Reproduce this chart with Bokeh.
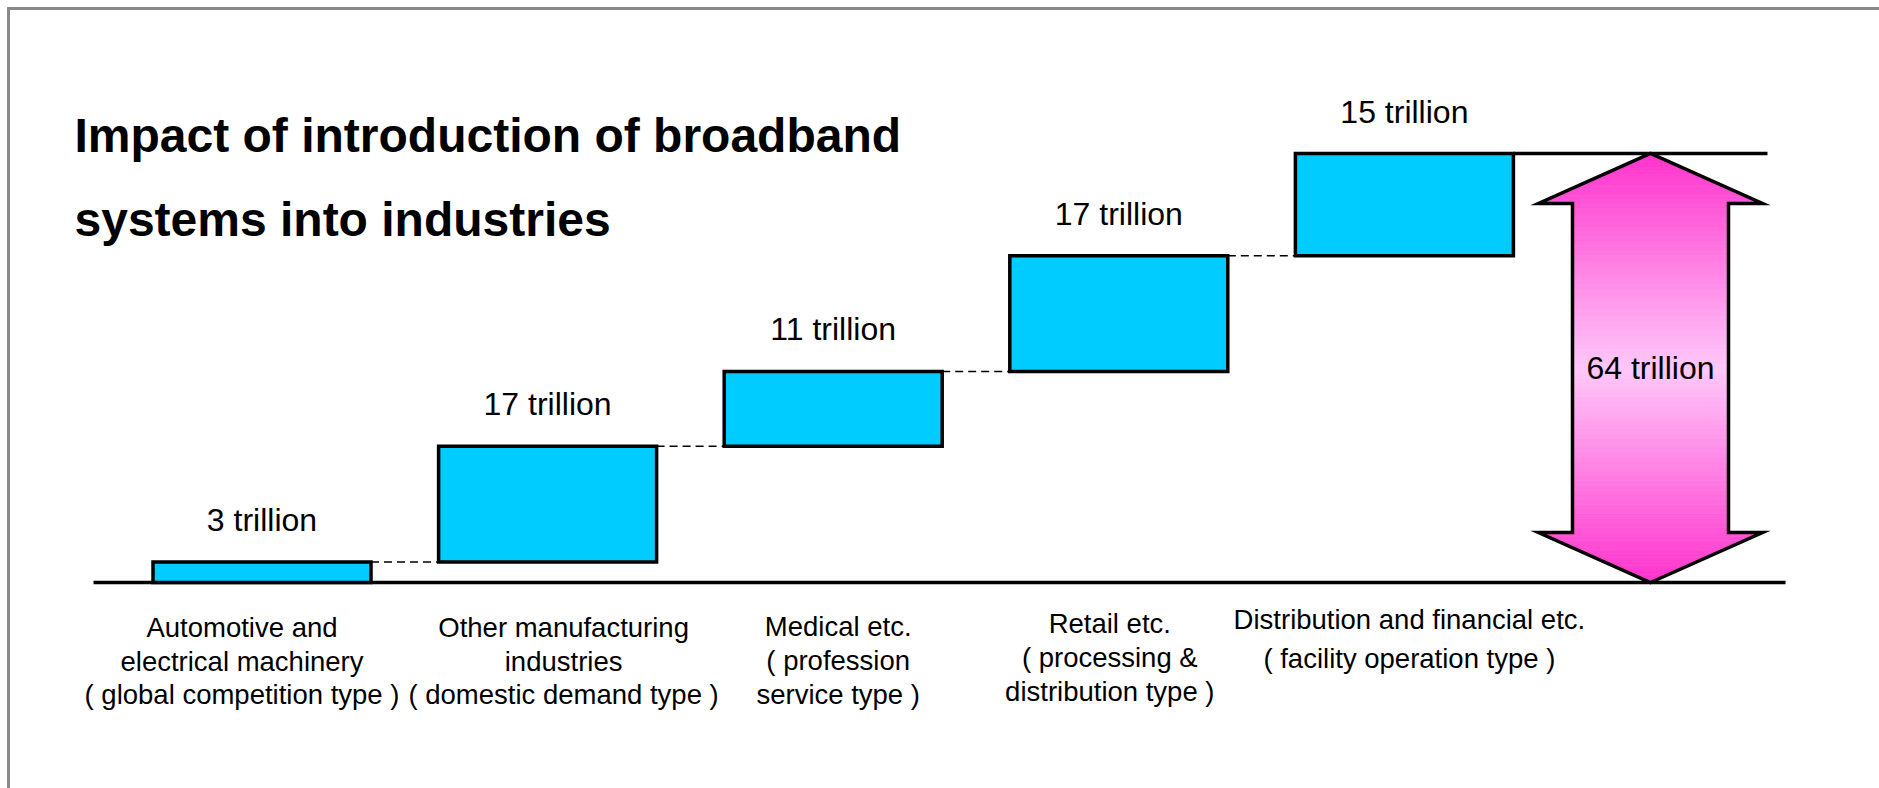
import numpy as np
from bokeh.plotting import figure
from bokeh.models import Range1d
from bokeh.embed import file_html
from bokeh.resources import INLINE
from bokeh.core.properties import value

# ---------------- data ----------------
categories = [
    "Automotive and\nelectrical machinery\n( global competition type )",
    "Other manufacturing\nindustries\n( domestic demand type )",
    "Medical etc.\n( profession\nservice type )",
    "Retail etc.\n( processing &\ndistribution type )",
    "Distribution and financial etc.\n( facility operation type )",
]
values = [3, 17, 11, 17, 15]          # trillion
value_labels = ["3 trillion", "17 trillion", "11 trillion", "17 trillion", "15 trillion"]
total_label = "64 trillion"
title_lines = ["Impact of introduction of broadband", "systems into industries"]

# ---------------- layout (pixels) ----------------
W, H = 1879, 788
PX_X0, PX_DX = 261.5, 285.6      # pixel of first category centre, spacing
PX_BASE, PX_TOP = 582.0, 153.0   # pixel of zero line and of cumulative total
BAR_PX = 218.0
FONT = value("Liberation Sans")

# category label placement (pixels): x shift, first baseline, line pitch
label_dx_px = [-20, 16, 5, -9, 5]
label_y0_px = [627, 627, 626, 623, 619]
label_pitch_px = [33.5, 33.5, 34, 34, 39]

idx = np.arange(len(values), dtype=float)
cum = np.cumsum(values).astype(float)
bottoms = cum - np.array(values, dtype=float)
total = cum[-1]
k = (PX_BASE - PX_TOP) / total


def dx(px):
    return (px - PX_X0) / PX_DX


def dy(py):
    return (PX_BASE - py) / k


bw = BAR_PX / PX_DX

p = figure(width=W, height=H, output_backend="svg", toolbar_location=None,
           x_range=Range1d(dx(0), dx(W)), y_range=Range1d(dy(H), dy(0)),
           min_border=0, outline_line_color=None)
p.axis.visible = False
p.grid.visible = False
p.background_fill_color = "white"
p.border_fill_color = "white"

# page frame (top and left edges)
p.segment(x0=[dx(8), dx(8)], y0=[dy(8), dy(8)], x1=[dx(W + 5), dx(8)], y1=[dy(8), dy(H + 5)],
          line_color="#8a8a8a", line_width=3, line_cap="square")

# baseline and top line
p.segment(x0=[dx(93)], x1=[dx(1785)], y0=[0], y1=[0], line_color="black", line_width=3.5)
p.segment(x0=[idx[-1] + bw / 2], x1=[dx(1767)], y0=[total], y1=[total],
          line_color="black", line_width=3.5)

# dashed connectors
p.segment(x0=idx[:-1] + bw / 2, x1=idx[1:] - bw / 2, y0=cum[:-1], y1=cum[:-1],
          line_color="black", line_width=1.5, line_dash="8 5")

# waterfall bars
p.quad(left=idx - bw / 2, right=idx + bw / 2, bottom=bottoms, top=cum,
       fill_color="#00CCFF", line_color="black", line_width=3.5, line_join="miter")

# value labels
p.text(x=idx, y=cum, text=value_labels, text_font=FONT, text_font_size="32px",
       text_align="center", text_baseline="alphabetic", y_offset=-42, text_color="black")

# category labels (one text per line)
cx, cy, ct = [], [], []
for i, cat in enumerate(categories):
    for j, line in enumerate(cat.split("\n")):
        cx.append(i + label_dx_px[i] / PX_DX)
        cy.append(dy(label_y0_px[i] + j * label_pitch_px[i]))
        ct.append(line)
p.text(x=cx, y=cy, text=ct, text_font=FONT, text_font_size="27.5px",
       text_align="center", text_baseline="alphabetic", text_color="black")

# total double arrow with vertical gradient
ac = dx(1650)
sh = 78 / PX_DX
hw = 112 / PX_DX
hl = 50 / k


def half_width(y, seg):
    if seg == 0:
        return hw * (y / hl)
    if seg == 2:
        return hw * ((total - y) / hl)
    return sh


c_end = np.array([255, 51, 204], dtype=float)
c_mid = np.array([255, 200, 250], dtype=float)
xs, ys, cols = [], [], []
segs = [(0, 0.0, hl, 12), (1, hl, total - hl, 70), (2, total - hl, total, 12)]
for seg, a, b, n in segs:
    edges = np.linspace(a, b, n + 1)
    for y0, y1 in zip(edges[:-1], edges[1:]):
        w0 = half_width(y0, seg)
        w1 = half_width(y1, seg)
        xs.append([ac - w0, ac + w0, ac + w1, ac - w1])
        ys.append([y0, y0, y1, y1])
        t = ((y0 + y1) / 2) / total
        s = 1 - abs(2 * t - 1)
        c = c_end + (c_mid - c_end) * s
        cols.append("#%02x%02x%02x" % tuple(int(round(v)) for v in c))
p.patches(xs=xs, ys=ys, fill_color=cols, line_color=cols, line_width=0.8)

outline_x = [ac, ac + hw, ac + sh, ac + sh, ac + hw, ac, ac - hw, ac - sh, ac - sh, ac - hw]
outline_y = [0, hl, hl, total - hl, total - hl, total, total - hl, total - hl, hl, hl]
p.patch(x=outline_x, y=outline_y, fill_alpha=0, line_color="black", line_width=3.5,
        line_join="miter")

p.text(x=[ac], y=[total / 2], text=[total_label], text_font=FONT, text_font_size="32px",
       text_align="center", text_baseline="middle", text_color="black")

# title
p.text(x=[dx(74)] * 2, y=[dy(135), dy(219)], text=title_lines, text_font=FONT,
       text_font_style="bold", text_font_size="48px", text_align="left",
       text_baseline="alphabetic", text_color="black")

open("out.html", "w").write(file_html(p, INLINE))
